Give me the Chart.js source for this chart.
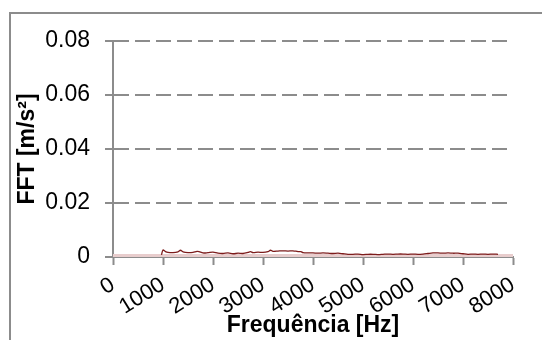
<!DOCTYPE html>
<html lang="pt">
  <head>
    <meta charset="UTF-8" />
    <title>FFT</title>
    <script src="https://cdn.jsdelivr.net/npm/chart.js"></script>
    <style>
      body { margin: 0; overflow: hidden; background: #fff; }
      .frame {
        position: absolute; left: 9px; top: 12px;
        width: 620px; height: 420px;
        border: 2px solid #8c8c8c;
      }
      canvas { position: absolute; left: 0; top: 0; }
    </style>
  </head>
  <body>
    <div class="frame"></div>
    <canvas id="fftChart" width="542" height="340"></canvas>

    <script>
      // frequências [Hz] e amplitude FFT [m/s²]
      var freqHz = [970, 1000, 1050, 1100, 1200, 1300, 1350, 1400, 1500, 1600, 1680, 1720, 1800, 1900,
        2000, 2100, 2200, 2300, 2400, 2500, 2600, 2700, 2750, 2800, 2900, 3000, 3100, 3150, 3200,
        3300, 3400, 3500, 3600, 3700, 3760, 3800, 3900, 4000, 4100, 4200, 4300, 4400, 4500, 4600,
        4700, 4800, 4900, 5000, 5100, 5200, 5300, 5400, 5500, 5600, 5700, 5800, 5900, 6000, 6100,
        6200, 6300, 6400, 6500, 6600, 6700, 6800, 6900, 7000, 7100, 7200, 7300, 7400, 7500, 7600, 7700];
      var fftVals = [0.0008, 0.0026, 0.0020, 0.0017, 0.0016, 0.0019, 0.0025, 0.0019, 0.0016, 0.0017, 0.0021, 0.0020, 0.0015, 0.0016,
        0.0018, 0.0014, 0.0013, 0.0015, 0.0012, 0.0014, 0.0013, 0.0017, 0.0020, 0.0016, 0.0018, 0.0017, 0.0020, 0.0025, 0.0021,
        0.0022, 0.0023, 0.0022, 0.0023, 0.0020, 0.0020, 0.0016, 0.0015, 0.0015, 0.0014, 0.0015, 0.0014, 0.0013, 0.0014, 0.0012,
        0.0010, 0.0010, 0.0011, 0.0009, 0.0010, 0.0010, 0.0009, 0.0010, 0.0011, 0.0010, 0.0011, 0.0011, 0.0010, 0.0011, 0.0010,
        0.0011, 0.0013, 0.0015, 0.0015, 0.0014, 0.0015, 0.0014, 0.0014, 0.0012, 0.0010, 0.0011, 0.0010, 0.0011, 0.0010, 0.0011, 0.0010];
      // faixa de referência em zero
      var baseHz = [0, 8000];
      var baseVals = [0, 0];
      var yTicks = [0, 0.02, 0.04, 0.06, 0.08];

      function toPoints(xs, ys) {
        return xs.map(function (x, i) { return { x: x, y: ys[i] }; });
      }

      var fontFamily = "Arial, 'Liberation Sans', sans-serif";

      var ctx = document.getElementById("fftChart").getContext("2d");
      var chart = new Chart(ctx, {
        type: "line",
        data: {
          datasets: [
            {
              label: "FFT",
              data: toPoints(freqHz, fftVals),
              borderColor: "#7d1c1c",
              borderWidth: 1.3,
              pointRadius: 0,
              tension: 0.3,
              fill: false,
            },
            {
              label: "base",
              data: toPoints(baseHz, baseVals),
              borderColor: "#e8cdcd",
              borderWidth: 6,
              pointRadius: 0,
              fill: false,
            },
          ],
        },
        options: {
          responsive: false,
          animation: false,
          devicePixelRatio: 1,
          layout: { padding: { left: 0, top: 41, right: 29, bottom: 0 } },
          plugins: { legend: { display: false }, tooltip: { enabled: false } },
          scales: {
            x: {
              type: "linear",
              min: 0,
              max: 8000,
              afterFit: function (s) { s.height = 83; },
              ticks: {
                stepSize: 1000,
                autoSkip: false,
                minRotation: 32,
                maxRotation: 32,
                padding: 7,
                color: "#000",
                font: { family: fontFamily, size: 22 },
                callback: function (v) { return String(v); },
              },
              grid: {
                drawOnChartArea: false,
                tickLength: 8,
                tickColor: "#8c8c8c",
                tickWidth: 2,
              },
              border: { color: "#8c8c8c", width: 2 },
              title: {
                display: true,
                text: "Frequência [Hz]",
                color: "#000",
                font: { family: fontFamily, size: 23, weight: "bold" },
                padding: { top: 0, bottom: 1 },
              },
            },
            y: {
              min: 0,
              max: 0.08,
              afterFit: function (s) { s.width = 113; },
              afterBuildTicks: function (s) {
                s.ticks = yTicks.map(function (v) { return { value: v }; });
              },
              ticks: {
                padding: 15,
                color: "#000",
                font: { family: fontFamily, size: 23 },
              },
              grid: {
                color: "#8c8c8c",
                lineWidth: 2,
                tickLength: 8,
                tickColor: "#8c8c8c",
                tickWidth: 2,
                tickBorderDash: [],
              },
              border: { color: "#8c8c8c", width: 2, dash: [15, 6] },
              title: {
                display: true,
                text: "FFT [m/s²]",
                color: "#000",
                font: { family: fontFamily, size: 23, weight: "bold" },
                padding: { top: 14, bottom: 0 },
              },
            },
          },
        },
      });
    </script>
  </body>
</html>
